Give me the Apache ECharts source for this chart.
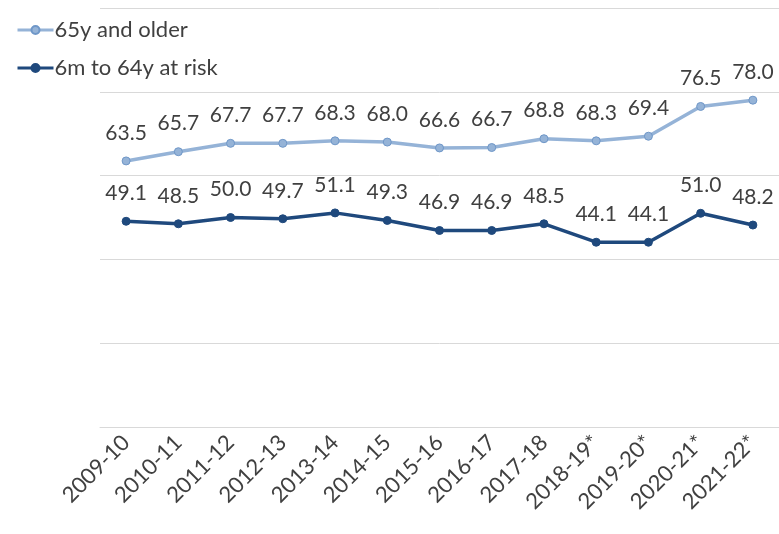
<!DOCTYPE html>
<html>
<head>
<meta charset="utf-8">
<script src="https://cdn.jsdelivr.net/npm/echarts@6/dist/echarts.min.js"></script>
<style>
  html, body { margin: 0; padding: 0; background: #fff; }
  #chart { width: 779px; height: 534px; }
</style>
</head>
<body>
<div id="chart"></div>
<script>
const seasons = ["2009-10", "2010-11", "2011-12", "2012-13", "2013-14", "2014-15", "2015-16",
  "2016-17", "2017-18", "2018-19*", "2019-20*", "2020-21*", "2021-22*"];
const older65 = [63.5, 65.7, 67.7, 67.7, 68.3, 68.0, 66.6, 66.7, 68.8, 68.3, 69.4, 76.5, 78.0];
const atRisk = [49.1, 48.5, 50.0, 49.7, 51.1, 49.3, 46.9, 46.9, 48.5, 44.1, 44.1, 51.0, 48.2];

const font = "Lato, 'Open Sans', sans-serif";
const textColor = "#404040";

const chart = echarts.init(document.getElementById("chart"));

const labelStyle = {
  show: true,
  position: "top",
  distance: 13,
  color: textColor,
  fontSize: 21,
  fontFamily: font,
  formatter: (p) => p.value.toFixed(1),
};

chart.setOption({
  animation: false,
  backgroundColor: "#fff",
  grid: { left: 100, right: 0, top: 8, bottom: 107 },
  legend: {
    orient: "vertical",
    left: 11,
    top: 14,
    itemWidth: 36,
    itemHeight: 10,
    itemGap: 16,
    lineStyle: { width: 3 },
    textStyle: { color: textColor, fontSize: 22, fontFamily: font, padding: [0, 0, 0, -4] },
    data: ["65y and older", "6m to 64y at risk"],
  },
  xAxis: {
    type: "category",
    data: seasons,
    boundaryGap: true,
    axisLine: { show: true, lineStyle: { color: "#d9d9d9", width: 1 } },
    axisTick: { show: false },
    axisLabel: {
      rotate: 45,
      interval: 0,
      color: textColor,
      fontSize: 22,
      fontFamily: font,
      margin: 12,
    },
  },
  yAxis: {
    type: "value",
    min: 0,
    max: 100,
    interval: 20,
    axisLabel: { show: false },
    axisLine: { show: false },
    axisTick: { show: false },
    splitLine: { lineStyle: { color: "#d9d9d9", width: 1 } },
  },
  series: [
    {
      name: "65y and older",
      type: "line",
      data: older65,
      symbol: "circle",
      symbolSize: 8,
      lineStyle: { color: "#95b3d7", width: 3.5 },
      itemStyle: { color: "#95b3d7", borderColor: "#6f97c8", borderWidth: 1 },
      label: labelStyle,
    },
    {
      name: "6m to 64y at risk",
      type: "line",
      data: atRisk,
      symbol: "circle",
      symbolSize: 8,
      lineStyle: { color: "#1f497d", width: 3.5 },
      itemStyle: { color: "#1f497d", borderColor: "#1f497d", borderWidth: 1 },
      label: labelStyle,
    },
  ],
});
</script>
</body>
</html>
